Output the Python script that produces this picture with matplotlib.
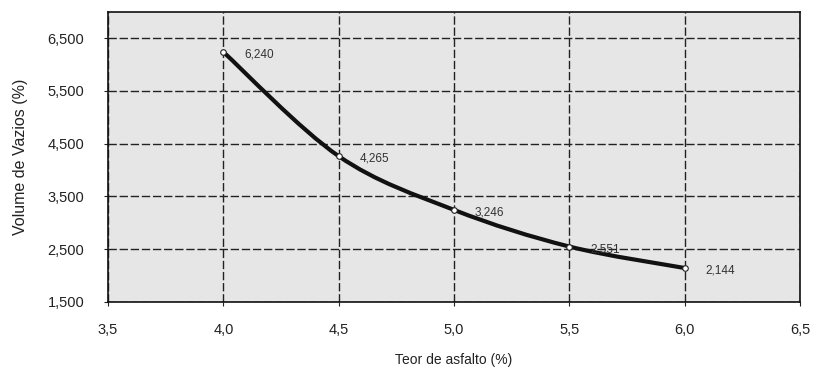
import matplotlib
matplotlib.use("Agg")
import matplotlib.pyplot as plt
from matplotlib.path import Path
from matplotlib.patches import PathPatch
import numpy as np

teor = [4.0, 4.5, 5.0, 5.5, 6.0]
vazios = [6.240, 4.265, 3.246, 2.551, 2.144]
labels = ["6,240", "4,265", "3,246", "2,551", "2,144"]
xticks = [3.5, 4.0, 4.5, 5.0, 5.5, 6.0, 6.5]
xticklabels = ["3,5", "4,0", "4,5", "5,0", "5,5", "6,0", "6,5"]
yticks = [1.5, 2.5, 3.5, 4.5, 5.5, 6.5]
yticklabels = ["1,500", "2,500", "3,500", "4,500", "5,500", "6,500"]

plt.rcParams['font.family'] = ['Liberation Sans', 'DejaVu Sans']

fig = plt.figure(figsize=(8.18, 3.71), dpi=100)
ax = fig.add_axes([0.132, 0.186, 0.846, 0.782])
ax.set_facecolor('#e6e6e6')
ax.set_xlim(3.5, 6.5)
ax.set_ylim(1.5, 7.0)

# smooth curve (Catmull-Rom style Bezier through data points)
x = np.array(teor); y = np.array(vazios)
verts = [(x[0], y[0])]
codes = [Path.MOVETO]
n = len(x)
for i in range(n - 1):
    p0 = (x[max(i - 1, 0)], y[max(i - 1, 0)])
    p1 = (x[i], y[i]); p2 = (x[i + 1], y[i + 1])
    p3 = (x[min(i + 2, n - 1)], y[min(i + 2, n - 1)])
    c1 = (p1[0] + (p2[0] - p0[0]) / 6, p1[1] + (p2[1] - p0[1]) / 6)
    c2 = (p2[0] - (p3[0] - p1[0]) / 6, p2[1] - (p3[1] - p1[1]) / 6)
    verts += [c1, c2, p2]
    codes += [Path.CURVE4] * 3
ax.add_patch(PathPatch(Path(verts, codes), facecolor='none', edgecolor='#111111', lw=3, zorder=3))
ax.plot(teor, vazios, linestyle='none', marker='o', ms=4, mfc='white', mec='#222222', mew=0.8, zorder=4)

for xi, yi, lab in zip(teor, vazios, labels):
    ax.annotate(lab, (xi, yi), xytext=(15, -2), textcoords='offset points',
                fontsize=8.5, color='#333333', va='center', ha='left', zorder=5)

ax.set_xticks(xticks)
ax.set_xticklabels(xticklabels)
ax.set_yticks(yticks)
ax.set_yticklabels(yticklabels)
ax.tick_params(labelsize=10.5, colors='#222222', length=3, direction='out')
ax.tick_params(axis='x', pad=12)
ax.tick_params(axis='y', pad=14)
ax.grid(True, color='#222222', linestyle=(0, (6, 2)), linewidth=1, zorder=1)
ax.set_axisbelow(True)
for s in ax.spines.values():
    s.set_color('#111111'); s.set_linewidth(1.2)

ax.set_xlabel('Teor de asfalto (%)', fontsize=10, color='#222222', labelpad=12)
ax.set_ylabel('Volume de Vazios (%)', fontsize=11.5, color='#222222', labelpad=14)

fig.savefig('out.png', dpi=100)
